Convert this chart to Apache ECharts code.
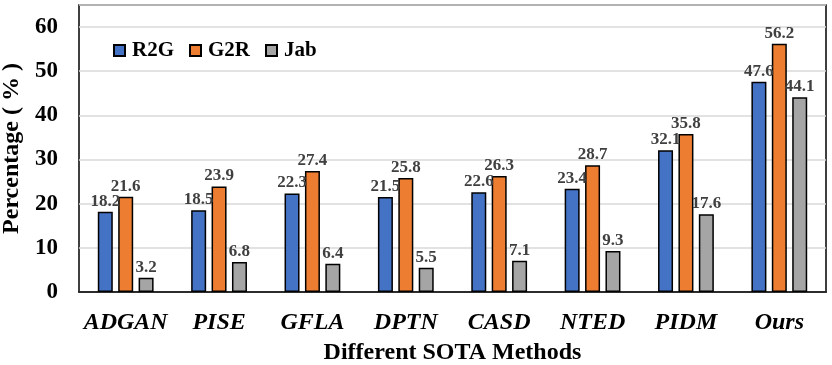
<!DOCTYPE html>
<html><head><meta charset="utf-8">
<script src="https://cdn.jsdelivr.net/npm/echarts@6/dist/echarts.min.js"></script>
<style>html,body{margin:0;padding:0;background:#fff}#c{width:832px;height:365px}</style>
</head><body><div id="c"></div>
<script>
const categories = ['ADGAN','PISE','GFLA','DPTN','CASD','NTED','PIDM','Ours'];
const r2g = [18.2,18.5,22.3,21.5,22.6,23.4,32.1,47.6];
const g2r = [21.6,23.9,27.4,25.8,26.3,28.7,35.8,56.2];
const jab = [3.2,6.8,6.4,5.5,7.1,9.3,17.6,44.1];
const yTicks = [0,10,20,30,40,50,60];

const font = '"Liberation Serif", "Times New Roman", serif';
const chart = echarts.init(document.getElementById('c'));
function ser(name, data, color){
  return {name, type:'bar', data, barWidth:15, barGap:'36%',
    itemStyle:{color, borderColor:'#000', borderWidth:1.5},
    label:{show:true, position:'top', distance:2, color:'#404040', fontFamily:font, fontWeight:'bold', fontSize:17}};
}
chart.setOption({
  animation:false,
  textStyle:{fontFamily:font},
  grid:{left:79, right:6, top:5, bottom:73, show:true, borderColor:'#000', borderWidth:1.5,
    outerBoundsMode:'none', containLabel:false},
  legend:{left:108, top:35, itemWidth:11, itemHeight:11, itemGap:15,
    textStyle:{fontFamily:font, fontWeight:'bold', fontSize:21, color:'#000', padding:[0,0,0,2]},
    data:[{name:'R2G',icon:'rect'},{name:'G2R',icon:'rect'},{name:'Jab',icon:'rect'}]},
  xAxis:{type:'category', data:categories,
    axisTick:{show:false}, axisLine:{lineStyle:{color:'#000', width:1.5}},
    axisLabel:{interval:0, fontFamily:font, fontWeight:'bold', fontStyle:'italic', fontSize:24, color:'#000', margin:19},
    name:'Different SOTA Methods', nameLocation:'middle', nameGap:49,
    nameTextStyle:{fontFamily:font, fontWeight:'bold', fontSize:24, color:'#000'}},
  yAxis:{type:'value', min:0, max:65, interval:10,
    axisLine:{show:false}, axisTick:{show:false},
    splitLine:{lineStyle:{color:'#d9d9d9', width:1.5}},
    axisLabel:{fontFamily:font, fontWeight:'bold', fontSize:23, color:'#000', margin:21,
      formatter:v=> yTicks.includes(v) ? String(v) : ''},
    name:'Percentage ( % )', nameLocation:'middle', nameGap:53,
    nameTextStyle:{fontFamily:font, fontWeight:'bold', fontSize:24, color:'#000'}},
  series:[ser('R2G',r2g,'#4472C4'), ser('G2R',g2r,'#ED7D31'), ser('Jab',jab,'#A5A5A5')]
});
</script></body></html>
